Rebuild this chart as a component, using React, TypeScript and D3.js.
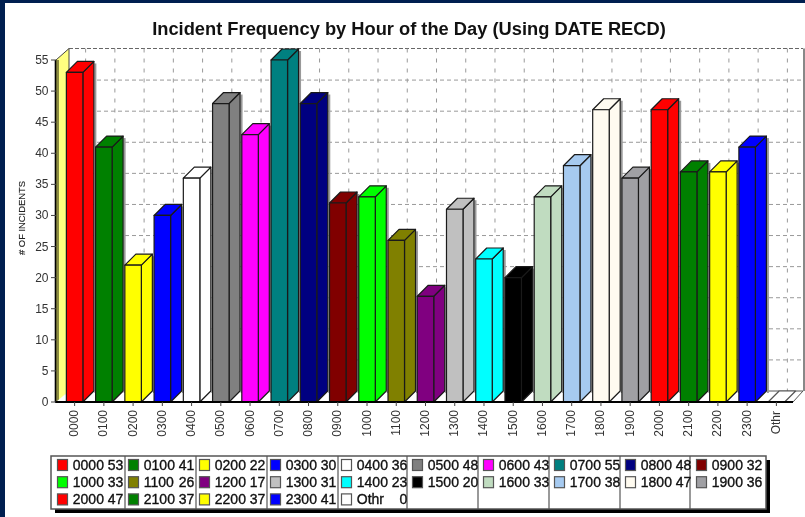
import React from "react";
import * as d3 from "d3";

const categories = ["0000","0100","0200","0300","0400","0500","0600","0700","0800","0900","1000","1100","1200","1300","1400","1500","1600","1700","1800","1900","2000","2100","2200","2300","Othr"];
const values = [53,41,22,30,36,48,43,55,48,32,33,26,17,31,23,20,33,38,47,36,47,37,37,41,0];
const colors = ["#ff0000","#008000","#ffff00","#0000ff","#ffffff","#808080","#ff00ff","#008080","#000080","#800000","#00ff00","#808000","#800080","#c0c0c0","#00ffff","#000000","#c0dcc0","#a6caf0","#fffbf0","#a0a0a4","#ff0000","#008000","#ffff00","#0000ff","#ffffff"];
const yTicks = [0,5,10,15,20,25,30,35,40,45,50,55];
const title = "Incident Frequency by Hour of the Day (Using DATE RECD)";
const yTitle = "# OF INCIDENTS";

const W = 805, H = 517;
const DEPTH = 11;
const BARW = 16.5;
const LEG_COLS = 10;
const legendSeparators = [125,196,267,338,407,478,549,620,690];

export default function App() {
  const y = d3.scaleLinear().domain([0,55]).range([402,60]);
  const x = d3.scaleBand().domain(categories).range([60,60+29.24*25]).paddingInner(0.42).paddingOuter(0.21);
  const legendX = d3.scaleLinear().domain([0,9]).range([57,696]);
  const xc = (c: string) => x(c)! + x.bandwidth()/2;
  const left = 56, right = 793, wallL = 69, wallR = 803;
  const top = y(55)-DEPTH-0.5, back = y(0)-DEPTH;
  const grid = "#999";
  return (
    <svg width={W} height={H} style={{position:"absolute",left:0,top:0,filter:"blur(0.45px)"}} fontFamily="'Liberation Sans', Arial, sans-serif">
      <rect width={W} height={H} fill="#fff"/>
      <rect width={W} height={3} fill="#001f50"/>
      <rect width={5} height={H} fill="#001f50"/>
      <text x={409} y={35} textAnchor="middle" fontSize={18.3} fontWeight="bold" fill="#111">{title}</text>

      {/* back wall */}
      <rect x={wallR} y={top} width={2.5} height={back-top} fill="#888"/>
      <line x1={wallL} x2={wallR} y1={top} y2={top} stroke="#666" strokeWidth={1.2} strokeDasharray="4 2"/>
      {yTicks.filter(t=>t>0&&t<55).map(t=>(
        <line key={t} x1={wallL} x2={wallR} y1={y(t)-DEPTH} y2={y(t)-DEPTH} stroke={grid} strokeDasharray="4 3"/>
      ))}
      {categories.map(c=>(
        <line key={c} x1={xc(c)+DEPTH} x2={xc(c)+DEPTH} y1={top} y2={back} stroke={grid} strokeDasharray="4 6"/>
      ))}
      {/* left wall */}
      <polygon points={`${left},${y(55)} ${wallL},${top} ${wallL},${back} ${left+2},${y(0)}`} fill="#ffff80" stroke="#444"/>
      <rect x={left-1} y={y(55)} width={4} height={y(0)-y(55)} fill="#8a8a40"/>
      {/* floor */}
      <polygon points={`${left},${y(0)} ${wallL},${back} ${wallR},${back} ${right},${y(0)}`} fill="#fff"/>
      <line x1={xc("Othr")-8} x2={wallR} y1={back} y2={back} stroke="#555"/>
      <line x1={right} x2={wallR} y1={y(0)} y2={back} stroke="#555"/>

      {/* bars */}
      {categories.map((c,i)=>{
        const x0 = xc(c)-BARW/2, x1 = x0+BARW, t = y(values[i]), b = y(0);
        const col = colors[i];
        return (
          <g key={c} stroke="#1a1a1a" strokeWidth={1.2} strokeLinejoin="round">
            {values[i]>0 && <rect x={x1+DEPTH+0.5} y={t-DEPTH+2} width={2} height={b-t} fill="#999" stroke="none"/>}
            {values[i]>0 && <polygon points={`${x1},${t} ${x1+DEPTH},${t-DEPTH} ${x1+DEPTH},${b-DEPTH} ${x1},${b}`} fill={col}/>}
            <polygon points={`${x0},${t} ${x0+DEPTH},${t-DEPTH} ${x1+DEPTH},${t-DEPTH} ${x1},${t}`} fill={col} stroke={values[i]>0?"#1a1a1a":"#555"}/>
            {values[i]>0 && <rect x={x0} y={t} width={BARW} height={b-t} fill={col}/>}
          </g>
        );
      })}

      {/* axes */}
      <line x1={left-0.5} x2={left-0.5} y1={y(55)} y2={y(0)} stroke="#000" strokeWidth={1.6}/>
      <line x1={left-1} x2={right} y1={y(0)} y2={y(0)} stroke="#000" strokeWidth={1.8}/>
      {yTicks.map(t=>(
        <g key={t}>
          <line x1={left-5} x2={left} y1={y(t)} y2={y(t)} stroke="#444"/>
          <text x={48.5} y={y(t)+4} textAnchor="end" fontSize={12} fill="#333">{t}</text>
        </g>
      ))}
      {categories.map(c=>(
        <g key={c}>
          <line x1={xc(c)} x2={xc(c)} y1={y(0)} y2={y(0)+4} stroke="#444"/>
          <text transform={`translate(${xc(c)+3.5},${c==="Othr"?411:410}) rotate(-90)`} textAnchor="end" fontSize={12} fill="#333">{c}</text>
        </g>
      ))}
      <text transform="translate(25,218) rotate(-90)" textAnchor="middle" fontSize={9.4} fill="#222" stroke="#222" strokeWidth={0.15}>{yTitle}</text>

      {/* legend */}
      <rect x={55} y={460} width={715} height={53} fill="#000"/>
      <rect x={51} y={456} width={715} height={53} fill="#fff" stroke="#555" strokeWidth={1.5}/>
      {legendSeparators.map(e=>(
        <line key={e} x1={e} x2={e} y1={456} y2={509} stroke="#555" strokeWidth={1.2}/>
      ))}
      {categories.map((c,i)=>{
        const col = i%LEG_COLS, row = Math.floor(i/LEG_COLS);
        const ex = legendX(col), ry = 465+row*17.2;
        return (
          <g key={c}>
            <rect x={ex+0.5} y={ry-5.5} width={10} height={11} fill={colors[i]} stroke="#555" strokeWidth={1.2}/>
            <text x={ex+15.8} y={ry+5} fontSize={14} fill="#111" stroke="#111" strokeWidth={0.35}>{c}</text>
            <text x={ex+66.4} y={ry+5} textAnchor="end" fontSize={14} fill="#111" stroke="#111" strokeWidth={0.35}>{values[i]}</text>
          </g>
        );
      })}
    </svg>
  );
}
